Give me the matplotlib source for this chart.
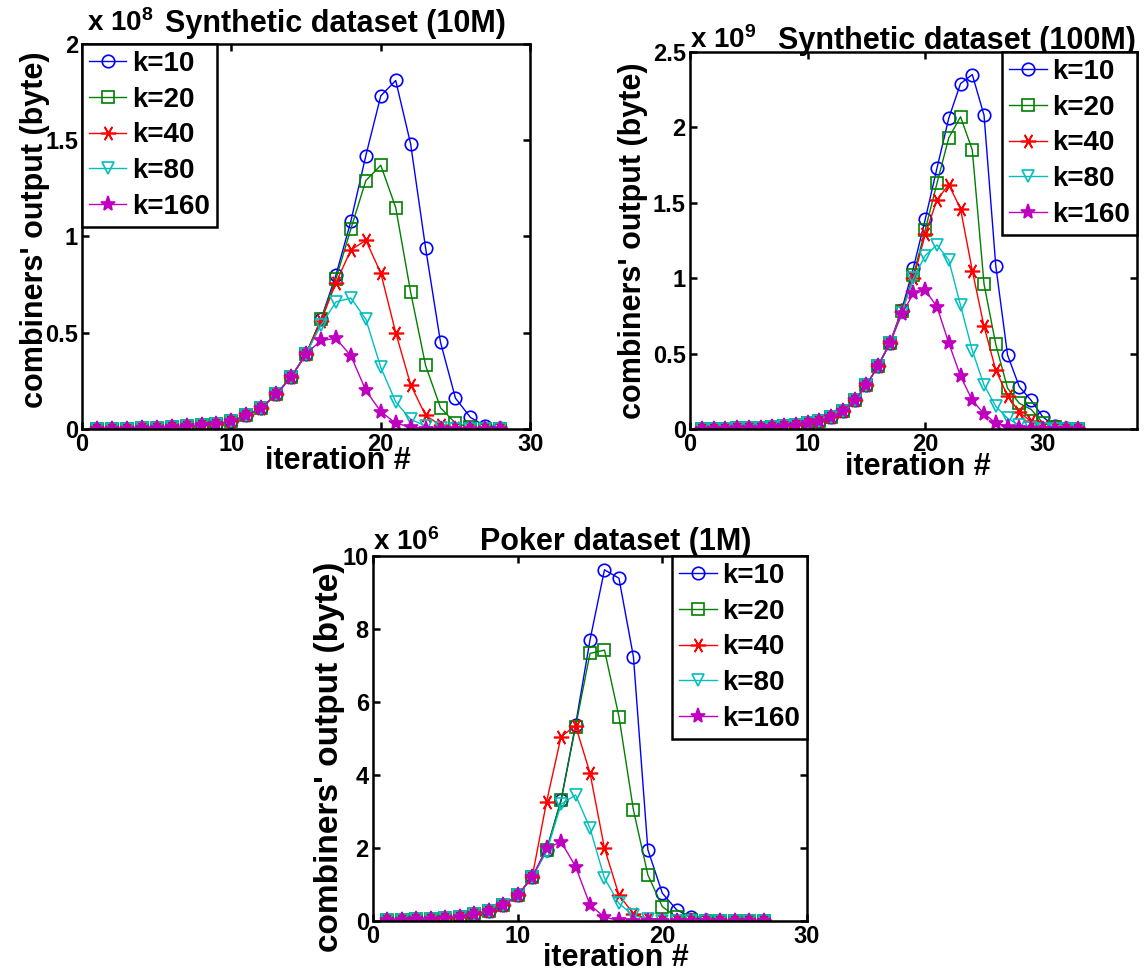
import numpy as np
import matplotlib
matplotlib.use('Agg')
import matplotlib.pyplot as plt

plt.rcParams['font.family'] = ['Liberation Sans', 'DejaVu Sans']
plt.rcParams['font.weight'] = 'bold'
plt.rcParams['axes.labelweight'] = 'bold'
plt.rcParams['mathtext.default'] = 'regular'

ks = ['k=10', 'k=20', 'k=40', 'k=80', 'k=160']
colors = ['#0000ff', '#008000', '#ff0000', '#00bfbf', '#bf00bf']
markers = ['o', 's', (6, 2, 90), 'v', '*']
msizes = [9, 9, 11, 9, 11]

# synthetic 10M, combiner output in units of 1e8 bytes, iterations 1..28
syn10_iter = np.arange(1, 29)
syn10_k10 = [0, 0.001, 0.002, 0.004, 0.006, 0.009, 0.013, 0.019, 0.026, 0.04, 0.07, 0.11, 0.18, 0.27,
             0.39, 0.57, 0.80, 1.08, 1.42, 1.73, 1.81, 1.48, 0.94, 0.45, 0.16, 0.06, 0.015, 0.003]
syn10_k20 = [0, 0.001, 0.002, 0.004, 0.006, 0.009, 0.013, 0.019, 0.026, 0.04, 0.07, 0.11, 0.18, 0.27,
             0.39, 0.57, 0.78, 1.04, 1.29, 1.37, 1.15, 0.71, 0.33, 0.11, 0.03, 0.008, 0.002, 0]
syn10_k40 = [0, 0.001, 0.002, 0.004, 0.006, 0.009, 0.013, 0.019, 0.026, 0.04, 0.07, 0.11, 0.18, 0.27,
             0.39, 0.56, 0.76, 0.93, 0.98, 0.81, 0.50, 0.23, 0.07, 0.02, 0.005, 0, 0, 0]
syn10_k80 = [0, 0.001, 0.002, 0.004, 0.006, 0.009, 0.013, 0.019, 0.026, 0.04, 0.07, 0.11, 0.18, 0.27,
             0.39, 0.54, 0.66, 0.68, 0.57, 0.32, 0.14, 0.05, 0.015, 0.003, 0, 0, 0, 0]
syn10_k160 = [0, 0.001, 0.002, 0.004, 0.006, 0.009, 0.013, 0.019, 0.026, 0.04, 0.07, 0.11, 0.18, 0.27,
              0.39, 0.46, 0.47, 0.38, 0.20, 0.09, 0.03, 0.01, 0.002, 0, 0, 0, 0, 0]

# synthetic 100M, units of 1e9 bytes, iterations 1..33
syn100_iter = np.arange(1, 34)
syn100_k10 = [0, 0.001, 0.002, 0.003, 0.005, 0.008, 0.012, 0.018, 0.026, 0.038, 0.055, 0.08, 0.12, 0.19,
              0.29, 0.42, 0.57, 0.79, 1.07, 1.39, 1.73, 2.06, 2.29, 2.35, 2.08, 1.08, 0.49, 0.28, 0.19,
              0.08, 0.02, 0.005, 0]
syn100_k20 = [0, 0.001, 0.002, 0.003, 0.005, 0.008, 0.012, 0.018, 0.026, 0.038, 0.055, 0.08, 0.12, 0.19,
              0.29, 0.42, 0.57, 0.78, 1.02, 1.32, 1.63, 1.93, 2.07, 1.85, 0.96, 0.56, 0.27, 0.17, 0.13,
              0.04, 0.01, 0.002, 0]
syn100_k40 = [0, 0.001, 0.002, 0.003, 0.005, 0.008, 0.012, 0.018, 0.026, 0.038, 0.055, 0.08, 0.12, 0.19,
              0.29, 0.42, 0.57, 0.78, 1.00, 1.29, 1.52, 1.62, 1.46, 1.05, 0.68, 0.39, 0.22, 0.11, 0.05,
              0.015, 0.003, 0, 0]
syn100_k80 = [0, 0.001, 0.002, 0.003, 0.005, 0.008, 0.012, 0.018, 0.026, 0.038, 0.055, 0.08, 0.12, 0.19,
              0.29, 0.42, 0.57, 0.77, 1.00, 1.15, 1.22, 1.12, 0.82, 0.52, 0.29, 0.15, 0.07, 0.025, 0.007,
              0, 0, 0, 0]
syn100_k160 = [0, 0.001, 0.002, 0.003, 0.005, 0.008, 0.012, 0.018, 0.026, 0.038, 0.055, 0.08, 0.12, 0.19,
               0.29, 0.42, 0.57, 0.76, 0.90, 0.92, 0.81, 0.57, 0.35, 0.19, 0.10, 0.04, 0.015, 0.004, 0,
               0, 0, 0, 0]

# poker 1M, units of 1e6 bytes, iterations 1..27
poker_iter = np.arange(1, 28)
poker_k10 = [0.02, 0.03, 0.04, 0.06, 0.08, 0.12, 0.18, 0.28, 0.43, 0.70, 1.2, 1.95, 3.3, 5.37, 7.70, 9.62,
             9.39, 7.24, 1.95, 0.76, 0.3, 0.1, 0.03, 0.01, 0, 0, 0]
poker_k20 = [0.02, 0.03, 0.04, 0.06, 0.08, 0.12, 0.18, 0.28, 0.43, 0.70, 1.2, 1.95, 3.32, 5.32, 7.33, 7.42,
             5.60, 3.04, 1.26, 0.39, 0.1, 0.03, 0.01, 0, 0, 0, 0]
poker_k40 = [0.02, 0.03, 0.04, 0.06, 0.08, 0.12, 0.18, 0.28, 0.43, 0.70, 1.2, 3.27, 5.05, 5.35, 4.05, 1.99,
             0.71, 0.2, 0.05, 0.01, 0, 0, 0, 0, 0, 0, 0]
poker_k80 = [0.02, 0.03, 0.04, 0.06, 0.08, 0.12, 0.18, 0.28, 0.43, 0.70, 1.2, 1.9, 3.2, 3.45, 2.54, 1.17,
             0.48, 0.15, 0.04, 0.01, 0, 0, 0, 0, 0, 0, 0]
poker_k160 = [0.02, 0.03, 0.04, 0.06, 0.08, 0.12, 0.18, 0.28, 0.43, 0.70, 1.2, 1.99, 2.17, 1.49, 0.44, 0.1,
              0.02, 0, 0, 0, 0, 0, 0, 0, 0, 0, 0]


def draw(ax, xs, series, exp, title, xmax, ymax, yticks, legend_loc,
         title_xy, exp_xy, xlab_xy, ylab_xy, ylab_size=22):
    for ys, c, m, s, lab in zip(series, colors, markers, msizes, ks):
        filled = m == '*'
        ax.plot(xs, ys, color=c, lw=1.0, marker=m, ms=s,
                mfc=c if filled else 'none', mec=c, mew=1.2, label=lab)
    ax.set_xlim(0, xmax)
    ax.set_ylim(0, ymax)
    ax.set_xticks([0, 10, 20, 30])
    ax.set_yticks(yticks)
    ax.set_yticklabels(['%g' % v for v in yticks])
    ax.tick_params(direction='in', top=True, right=True, length=5, width=1.8, labelsize=17, pad=3)
    for s in ax.spines.values():
        s.set_linewidth(1.8)
    ax.set_xlabel('iteration #', fontsize=22)
    ax.xaxis.set_label_coords(*xlab_xy)
    ax.set_ylabel("combiners' output (byte)", fontsize=ylab_size)
    ax.yaxis.set_label_coords(*ylab_xy)
    ax.text(exp_xy[0], exp_xy[1], r'x 10$^{%d}$' % exp, transform=ax.transAxes, fontsize=20,
            ha='left', va='bottom')
    ax.text(title_xy[0], title_xy[1], title, transform=ax.transAxes, fontsize=22,
            ha='center', va='bottom')
    leg = ax.legend(loc=legend_loc, fontsize=20, frameon=True, fancybox=False, edgecolor='k',
                    framealpha=1, borderaxespad=0, handlelength=1.35, handletextpad=0.2,
                    labelspacing=0.35, borderpad=0.25)
    leg.get_frame().set_linewidth(1.8)


fig = plt.figure(figsize=(11.46, 9.76), dpi=100)

ax1 = fig.add_axes([0.0716, 0.5605, 0.391, 0.3945])
draw(ax1, syn10_iter, [syn10_k10, syn10_k20, syn10_k40, syn10_k80, syn10_k160], 8,
     'Synthetic dataset (10M)', 30, 2, [0, 0.5, 1, 1.5, 2], 'upper left',
     title_xy=(0.565, 1.012), exp_xy=(0.012, 1.018), xlab_xy=(0.57, -0.045),
     ylab_xy=(-0.072, 0.517))

ax2 = fig.add_axes([0.6021, 0.5605, 0.390, 0.3863])
draw(ax2, syn100_iter, [syn100_k10, syn100_k20, syn100_k40, syn100_k80, syn100_k160], 9,
     'Synthetic dataset (100M)', 38, 2.5, [0, 0.5, 1, 1.5, 2, 2.5], 'upper right',
     title_xy=(0.597, 0.99), exp_xy=(0.0, 0.995), xlab_xy=(0.51, -0.06),
     ylab_xy=(-0.094, 0.50))

ax3 = fig.add_axes([0.3255, 0.0564, 0.3787, 0.374])
draw(ax3, poker_iter, [poker_k10, poker_k20, poker_k40, poker_k80, poker_k160], 6,
     'Poker dataset (1M)', 30, 10, [0, 2, 4, 6, 8, 10], 'upper right',
     title_xy=(0.56, 0.997), exp_xy=(0.0, 1.0), xlab_xy=(0.56, -0.06),
     ylab_xy=(-0.065, 0.45), ylab_size=24)

fig.savefig('out.png', dpi=100)
